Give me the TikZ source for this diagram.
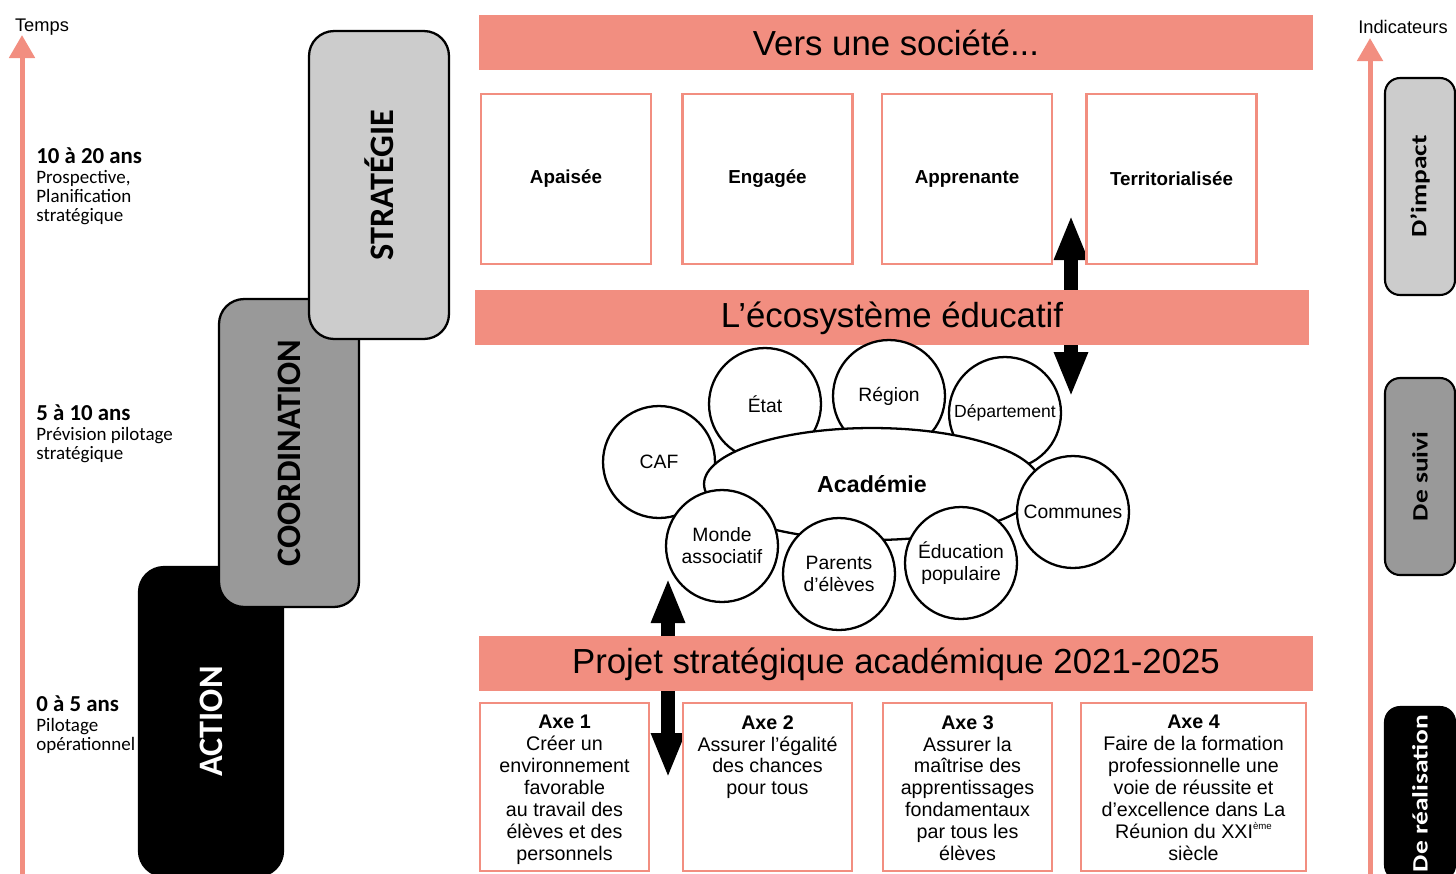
\documentclass[tikz,border=0pt]{standalone}
\usepackage{fontspec}
\setmainfont{Liberation Sans}
\newfontfamily\carlito{Carlito}
\usepackage{xcolor}
\definecolor{saumon}{RGB}{242,142,128}
\definecolor{grisclair}{RGB}{204,204,204}
\definecolor{grisfonce}{RGB}{153,153,153}
\usetikzlibrary{positioning}
\usetikzlibrary{shapes.geometric}
\usetikzlibrary{arrows.meta}

\begin{document}
\begin{tikzpicture}[x=0.02cm, y=-0.02cm,
  bandeau/.style={fill=saumon, minimum width=16.68cm, minimum height=1.1cm, inner sep=0pt, font=\fontsize{19.8}{22}\selectfont},
  cadre/.style={draw=saumon, line width=1.2pt, fill=white, minimum width=3.4cm, minimum height=3.4cm, inner sep=0pt, font=\bfseries\fontsize{10.7}{12}\selectfont},
  cadreaxe/.style={draw=saumon, line width=1.2pt, fill=white, minimum width=3.38cm, minimum height=3.36cm, inner sep=0pt},
  texteaxe/.style={inner sep=0pt, align=center, font=\fontsize{11.2}{12.5}\selectfont},
  acteur/.style={circle, draw, line width=1.3pt, fill=white, minimum size=2.24cm, inner sep=0pt, align=center, font=\fontsize{11}{12.5}\selectfont},
  phase/.style={draw, line width=1.3pt, rounded corners=0.5cm, minimum width=6.16cm, minimum height=2.8cm, rotate=90, font=\carlito\bfseries\fontsize{19.5}{20}\selectfont},
  indic/.style={draw, line width=1.2pt, rounded corners=0.3cm, minimum height=1.4cm, inner sep=0pt, rotate=90, font=\carlito\bfseries\fontsize{12.5}{13}\selectfont},
  duree/.style={anchor=north west, inner sep=0pt, align=left, font=\carlito\fontsize{10.8}{10.8}\selectfont},
  axe/.style={saumon, line width=0.1cm, -{Triangle[width=0.5cm,length=0.46cm]}},
  lien/.style={line width=0.28cm, {Triangle[width=0.62cm,length=0.9cm]}-{Triangle[width=0.62cm,length=0.9cm]}}]

  \useasboundingbox (0,0) rectangle (1456,873);
  \clip (0,0) rectangle (1456,873);

  % axes
  \coordinate (tempsBas) at (22,880);
  \coordinate (tempsHaut) at (22,35);
  \draw[axe] (tempsBas) -- (tempsHaut);
  \node[font=\fontsize{10.4}{12}\selectfont] (temps) at (42,27) {Temps};
  \coordinate (indicBas) at (1370,880);
  \coordinate (indicHaut) at (1370,38);
  \draw[axe] (indicBas) -- (indicHaut);
  \node[font=\fontsize{10.4}{12}\selectfont] (indicateurs) at (1403,27) {Indicateurs};

  % durees
  \node[duree] (d20) at (36,147) {{\bfseries\fontsize{13}{13}\selectfont 10 à 20 ans}\\[1pt]Prospective,\\Planification\\stratégique};
  \node[duree] (d10) at (36,404) {{\bfseries\fontsize{13}{13}\selectfont 5 à 10 ans}\\[1pt]Prévision pilotage\\stratégique};
  \node[duree] (d5) at (36,695) {{\bfseries\fontsize{13}{13}\selectfont 0 à 5 ans}\\[1pt]Pilotage\\opérationnel};

  % phases
  \node[phase, fill=black, text=white, minimum width=6.18cm, minimum height=2.88cm] (action) at (211,721.5) {ACTION};
  \node[phase, fill=grisfonce] (coordination) at (289,453) {COORDINATION};
  \node[phase, fill=grisclair] (strategie) at (379,185) {STRATÉGIE};

  % indicateurs
  \node[indic, fill=grisclair, minimum width=4.34cm] (impact) at (1420,186.5) {\scalebox{1.25}[1]{D’impact}};
  \node[indic, fill=grisfonce, minimum width=3.94cm] (suivi) at (1420,476.5) {\scalebox{1.25}[1]{De suivi}};
  \node[indic, fill=black, text=white, minimum width=3.46cm] (realisation) at (1420,793.5) {\scalebox{1.25}[1]{De réalisation}};

  % fleches
  \coordinate (societeBas) at (1071,215);
  \coordinate (ecoHaut) at (1071,397);
  \draw[lien] (societeBas) -- (ecoHaut);
  \coordinate (ecoBas) at (668,578);
  \coordinate (projetHaut) at (668,778);
  \draw[lien] (ecoBas) -- (projetHaut);

  % societe
  \node[bandeau] (societe) at (896,42.5) {Vers une société...};
  \node[cadre] (apaisee) at (566,179) {Apaisée};
  \node[cadre] (engagee) at (767.5,179) {Engagée};
  \node[cadre] (apprenante) at (967,179) {Apprenante};
  \node[cadre] (territoire) at (1171.5,179) {Territorialisée};

  % ecosysteme
  \node[bandeau, text depth=0.3em] (ecosysteme) at (892,317) {L’écosystème éducatif};
  \node[acteur] (caf) at (659,462) {CAF};
  \node[acteur] (etat) at (765,404) {État};
  \node[acteur] (region) at (889,396) {Région};
  \node[acteur, font=\fontsize{10}{12}\selectfont] (departement) at (1005,413) {Département};
  \node[ellipse, draw, line width=1.3pt, fill=white, minimum width=6.72cm, minimum height=2.24cm, font=\bfseries\fontsize{13.2}{14}\selectfont] (academie) at (872,484) {Académie};
  \node[acteur] (communes) at (1073,512) {Communes};
  \node[acteur] (education) at (961,563) {Éducation\\populaire};
  \node[acteur] (parents) at (839,574) {Parents\\d’élèves};
  \node[acteur] (monde) at (722,546) {Monde\\associatif};

  % projet
  \node[bandeau, text depth=0.3em] (projet) at (896,663.5) {Projet stratégique académique 2021-2025};
  \node[cadreaxe] (axe1) at (564.5,787) {};
  \node[cadreaxe] (axe2) at (767.5,787) {};
  \node[cadreaxe] (axe3) at (967.5,787) {};
  \node[cadreaxe, minimum width=4.5cm] (axe4) at (1193.5,787) {};
  \node[texteaxe, below=0.26cm of axe1.north] (texte1) {\textbf{Axe 1}\\Créer un\\environnement\\favorable\\au travail des\\élèves et des\\personnels};
  \node[texteaxe, below=0.26cm of axe2.north] (texte2) {\textbf{Axe 2}\\Assurer l’égalité\\des chances\\pour tous};
  \node[texteaxe, below=0.26cm of axe3.north] (texte3) {\textbf{Axe 3}\\Assurer la\\maîtrise des\\apprentissages\\fondamentaux\\par tous les\\élèves};
  \node[texteaxe, below=0.26cm of axe4.north] (texte4) {\textbf{Axe 4}\\Faire de la formation\\professionnelle une\\voie de réussite et\\d’excellence dans La\\Réunion du XXI\raisebox{0.9ex}{\fontsize{5.5}{6}\selectfont ème}\\siècle};

\end{tikzpicture}
\end{document}
